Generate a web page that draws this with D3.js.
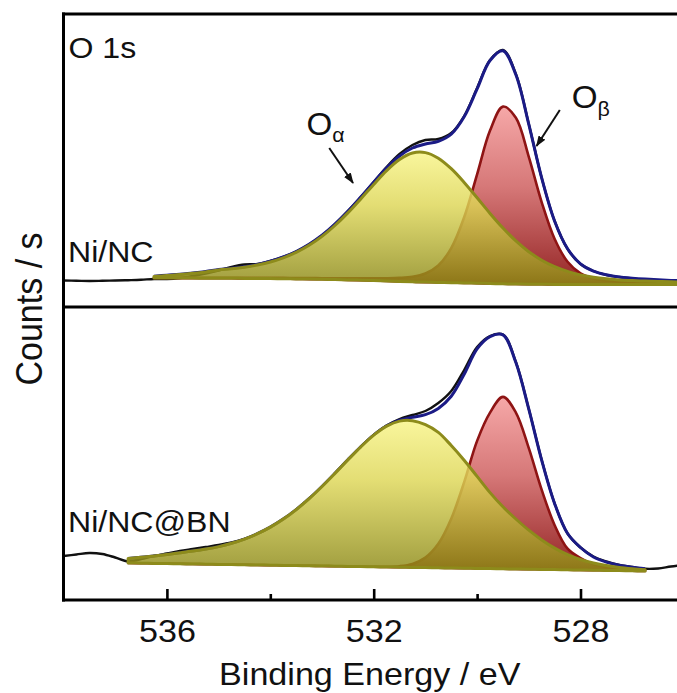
<!DOCTYPE html>
<html><head><meta charset="utf-8">
<script src="https://cdn.jsdelivr.net/npm/d3@7"></script>
<style>html,body{margin:0;padding:0;background:#fff;} svg{display:block;}</style>
</head><body>
<svg id="chart" width="677" height="693"></svg>
<script>
// ---------------- DATA ----------------
const energy = [538, 537.75, 537.5, 537.25, 537, 536.75, 536.5, 536.25, 536, 535.75, 535.5, 535.25, 535, 534.75, 534.5, 534.25, 534, 533.75, 533.5, 533.25, 533, 532.75, 532.5, 532.25, 532, 531.75, 531.5, 531.25, 531, 530.75, 530.5, 530.25, 530, 529.75, 529.5, 529.25, 529, 528.75, 528.5, 528.25, 528, 527.75, 527.5, 527.25, 527, 526.75, 526.5, 526.25, 526];

// Ni/NC (upper panel)
const topRaw = [0.5, 0.3, 0.0, 0.2, 0.5, 0.8, 1.2, 2.0, 2.0, 3.0, 5.0, 7.5, 10.5, 14, 16.5, 17, 20, 24, 29.5, 36.5, 45.5, 57, 70, 84, 99, 114, 127, 136, 141, 142, 148, 165, 193, 221, 231, 207, 157, 103, 60, 32, 17, 10, 6, 4, 2.5, 1.0, -0.5, -1.5, -2.0];
const topFitEnergy = [536.25, 536, 535.75, 535.5, 535.25, 535, 534.75, 534.5, 534.25, 534, 533.75, 533.5, 533.25, 533, 532.75, 532.5, 532.25, 532, 531.75, 531.5, 531.25, 531, 530.75, 530.5, 530.25, 530, 529.75, 529.5, 529.25, 529, 528.75, 528.5, 528.25, 528, 527.75, 527.5, 527.25, 527, 526.75, 526.5, 526.25, 526];
const topBackground = [3.0, 3.0, 2.9, 2.9, 2.8, 2.8, 2.7, 2.6, 2.5, 2.4, 2.3, 2.1, 1.9, 1.7, 1.4, 1.1, 0.8, 0.4, 0.0, -0.4, -0.8, -1.1, -1.4, -1.7, -1.9, -2.2, -2.5, -2.8, -3.0, -3.2, -3.3, -3.4, -3.4, -3.5, -3.5, -3.5, -3.5, -3.5, -3.5, -3.5, -3.5, -3.5];
const topOAlpha = [1.5, 2.5, 3.5, 4.8, 6.2, 8.2, 9.5, 11.2, 13.5, 16.6, 20.9, 26.5, 33.8, 42.9, 54.1, 67.0, 81.3, 96.2, 110.4, 121.9, 128.8, 129.5, 124.2, 114.0, 100.5, 85.4, 70.1, 55.8, 43.1, 32.5, 24.1, 17.7, 13.0, 9.6, 7.3, 5.7, 4.6, 3.9, 3.4, 3.0, 2.7, 2.5];
const topOBeta = [0.3, 0.3, 0.3, 0.4, 0.4, 0.4, 0.5, 0.5, 0.6, 0.7, 0.8, 0.9, 1.0, 1.1, 1.3, 1.5, 1.8, 2.2, 2.7, 3.5, 5.0, 8.6, 16.9, 34.6, 65.7, 108.9, 152.9, 177.2, 166.2, 127.4, 82.0, 45.4, 22.6, 11.1, 6.1, 4.0, 2.9, 2.4, 2.0, 1.7, 1.4, 1.2];

// Ni/NC@BN (lower panel)
const bottomRaw = [0, 1.5, 3, 2, -1.5, -5.5, -3, 0, 2.5, 5, 7, 9, 11, 13.5, 17, 22, 28.5, 36.5, 46, 57, 69.5, 82.5, 96, 109, 121, 130.5, 137, 141, 145, 153, 165, 186, 209, 220, 221.5, 194, 147, 96, 52.5, 22.5, 8.5, -0.5, -5.5, -9, -11, -12.8, -12.5, -10.5, -9];
const bottomFitEnergy = [536.75, 536.5, 536.25, 536, 535.75, 535.5, 535.25, 535, 534.75, 534.5, 534.25, 534, 533.75, 533.5, 533.25, 533, 532.75, 532.5, 532.25, 532, 531.75, 531.5, 531.25, 531, 530.75, 530.5, 530.25, 530, 529.75, 529.5, 529.25, 529, 528.75, 528.5, 528.25, 528, 527.75, 527.5, 527.25, 527, 526.75];
const bottomBackground = [-7.0, -7.2, -7.4, -7.6, -7.8, -8.0, -8.2, -8.4, -8.6, -8.8, -9.0, -9.2, -9.4, -9.6, -9.8, -10.0, -10.2, -10.4, -10.6, -10.8, -11.0, -11.2, -11.4, -11.6, -11.8, -12.0, -12.2, -12.4, -12.6, -12.8, -13.0, -13.2, -13.4, -13.6, -13.8, -14.0, -14.2, -14.4, -14.6, -14.8, -15.0];
const bottomOAlpha = [4.5, 6.0, 7.5, 9.2, 11.0, 12.9, 15.1, 17.8, 21.3, 25.7, 31.3, 38.1, 46.3, 56.0, 67.1, 79.5, 92.8, 106.5, 119.8, 131.7, 140.9, 146.1, 146.7, 142.9, 135.4, 122.5, 108.0, 92.0, 76.0, 62.0, 50.0, 39.0, 29.5, 21.5, 15.2, 10.5, 7.2, 4.8, 3.1, 2.0, 1.2];
const bottomOBeta = [0, 0, 0, 0, 0, 0, 0, 0, 0, 0, 0, 0, 0, 0, 0, 0, 0, 0, 0, 0, 0.2, 1.0, 3.5, 10.0, 24.0, 49.3, 86.0, 127.5, 156.0, 171.9, 156.4, 121.0, 79.5, 44.4, 21.1, 12.0, 6.0, 3.5, 2.2, 1.5, 1.0];

const majorTicks = [536, 532, 528];
const minorTicks = [534, 530];
const xTitle = "Binding Energy / eV";
const yTitle = "Counts / s";

// ---------------- LAYOUT ----------------
const W = 677, H = 693;
const fLeft = 63.5, fTop = 14, fMid = 307, fBottom = 600;
const FONT = "'Liberation Sans', Arial, Helvetica, sans-serif";

const svg = d3.select("#chart");
const defs = svg.append("defs");

const x = d3.scaleLinear().domain([538, 526]).range([fLeft, fLeft + 12 * 51.7]);
const yTop = d3.scaleLinear().domain([-26, 267]).range([fMid, fTop]);
const yBot = d3.scaleLinear().domain([-44, 249]).range([fBottom, fMid]);

function grad(id, stops) {
  const g = defs.append("linearGradient").attr("id", id)
    .attr("x1", 0).attr("y1", 0).attr("x2", 0).attr("y2", 1);
  stops.forEach(s => g.append("stop").attr("offset", s[0]).attr("stop-color", s[1]));
}
grad("gYellow", [["0%", "#f8f487"], ["40%", "#ddd655"], ["100%", "#8b8814"]]);
grad("gRed", [["0%", "#f6a8a8"], ["45%", "#d67878"], ["100%", "#952626"]]);

defs.append("clipPath").attr("id", "clipTop").append("rect")
  .attr("x", fLeft).attr("y", fTop).attr("width", W - fLeft).attr("height", fMid - fTop);
defs.append("clipPath").attr("id", "clipBot").append("rect")
  .attr("x", fLeft).attr("y", fMid).attr("width", W - fLeft).attr("height", fBottom - fMid);

defs.append("marker").attr("id", "arrow").attr("markerUnits", "userSpaceOnUse")
  .attr("markerWidth", 11).attr("markerHeight", 8).attr("refX", 10).attr("refY", 4)
  .attr("orient", "auto")
  .append("path").attr("d", "M0,0 L11,4 L0,8 Z").attr("fill", "#111");

const curve = d3.curveCatmullRom.alpha(0.5);

function drawPanel(clipId, y, raw, fitE, bg, oa, ob) {
  const g = svg.append("g").attr("clip-path", `url(#${clipId})`);
  const rawPts = energy.map((e, i) => ({e, v: raw[i]}));
  const fit = fitE.map((e, i) => ({e, b: bg[i], a: oa[i], c: ob[i], env: bg[i] + oa[i] + ob[i]}));

  const line = d3.line().x(d => x(d.e)).y(d => y(d.v)).curve(curve);
  g.append("path").attr("d", line(rawPts))
    .attr("fill", "none").attr("stroke", "#111").attr("stroke-width", 2.4);

  g.append("path").attr("d", d3.line().x(d => x(d.e)).y(d => y(d.env)).curve(curve)(fit))
    .attr("fill", "none").attr("stroke", "#1b1b86").attr("stroke-width", 3);

  const redArea = d3.area().x(d => x(d.e)).y0(d => y(d.b)).y1(d => y(d.b + d.c)).curve(curve);
  g.append("path").attr("d", redArea(fit))
    .attr("fill", "url(#gRed)").attr("stroke", "#8e1414").attr("stroke-width", 2.6)
    .attr("stroke-linejoin", "round");

  const yelArea = d3.area().x(d => x(d.e)).y0(d => y(d.b)).y1(d => y(d.b + d.a)).curve(curve);
  g.append("path").attr("d", yelArea(fit))
    .attr("fill", "url(#gYellow)").attr("fill-opacity", 0.82)
    .attr("stroke", "#8d8b1b").attr("stroke-width", 3).attr("stroke-linejoin", "round");
  return g;
}

drawPanel("clipTop", yTop, topRaw, topFitEnergy, topBackground, topOAlpha, topOBeta);
drawPanel("clipBot", yBot, bottomRaw, bottomFitEnergy, bottomBackground, bottomOAlpha, bottomOBeta);

// ---------------- FRAME & AXIS ----------------
const frame = svg.append("g").attr("stroke", "#000").attr("stroke-width", 3).attr("fill", "none");
frame.append("line").attr("x1", fLeft).attr("x2", fLeft).attr("y1", fTop - 1.5).attr("y2", fBottom + 1.5);
frame.append("line").attr("x1", fLeft - 1.5).attr("x2", W).attr("y1", fTop).attr("y2", fTop);
frame.append("line").attr("x1", fLeft).attr("x2", W).attr("y1", fMid).attr("y2", fMid);

const axisMajor = d3.axisBottom(x).tickValues(majorTicks).tickSize(-11).tickSizeOuter(0)
  .tickFormat(d3.format("d"));
const gx = svg.append("g").attr("transform", `translate(0,${fBottom})`).call(axisMajor);
gx.select(".domain").remove();
gx.selectAll(".tick line").attr("stroke", "#000").attr("stroke-width", 2.6);
gx.selectAll(".tick text").attr("y", 42).attr("dy", 0)
  .attr("transform", "scale(1.1,1)")
  .attr("font-family", FONT).attr("font-size", 31).attr("fill", "#111");

const axisMinor = d3.axisBottom(x).tickValues(minorTicks).tickSize(-6).tickSizeOuter(0).tickFormat("");
const gm = svg.append("g").attr("transform", `translate(0,${fBottom})`).call(axisMinor);
gm.select(".domain").remove();
gm.selectAll(".tick line").attr("stroke", "#000").attr("stroke-width", 2.6);

svg.append("line").attr("x1", fLeft - 1.5).attr("x2", W).attr("y1", fBottom).attr("y2", fBottom)
  .attr("stroke", "#000").attr("stroke-width", 3);

// titles
svg.append("text").attr("transform", `translate(${(fLeft + W) / 2 - 0.5},685) scale(1.1,1)`)
  .attr("text-anchor", "middle").attr("font-family", FONT).attr("font-size", 31)
  .attr("fill", "#111").text(xTitle);
svg.append("text").attr("transform", `translate(42,309) rotate(-90) scale(1,1.1)`)
  .attr("text-anchor", "middle").attr("font-family", FONT).attr("font-size", 34)
  .attr("fill", "#111").text(yTitle);

// panel labels
function label(txt, px, py) {
  svg.append("text").attr("transform", `translate(${px},${py}) scale(1.07,1)`)
    .attr("font-family", FONT).attr("font-size", 30).attr("fill", "#111").text(txt);
}
label("O 1s", 68.5, 58);
label("Ni/NC", 68, 262);
label("Ni/NC@BN", 68, 532);

// peak annotations (positioned in data coordinates of the upper panel)
function peakLabel(sub, e, v, dy) {
  const t = svg.append("text").attr("transform", `translate(${x(e)},${yTop(v)}) scale(1.07,1)`)
    .attr("font-family", FONT).attr("fill", "#111");
  t.append("tspan").attr("font-size", 31).text("O");
  t.append("tspan").attr("font-size", 20).attr("dy", dy).text(sub);
}
peakLabel("\u03B1", 533.3, 146, 7);
peakLabel("\u03B2", 528.17, 173, 8);

function arrow(e1, v1, e2, v2) {
  svg.append("line").attr("x1", x(e1)).attr("y1", yTop(v1)).attr("x2", x(e2)).attr("y2", yTop(v2))
    .attr("stroke", "#111").attr("stroke-width", 2).attr("marker-end", "url(#arrow)");
}
arrow(532.86, 133, 532.4, 98);
arrow(528.40, 171, 528.85, 135);
</script>
</body></html>
